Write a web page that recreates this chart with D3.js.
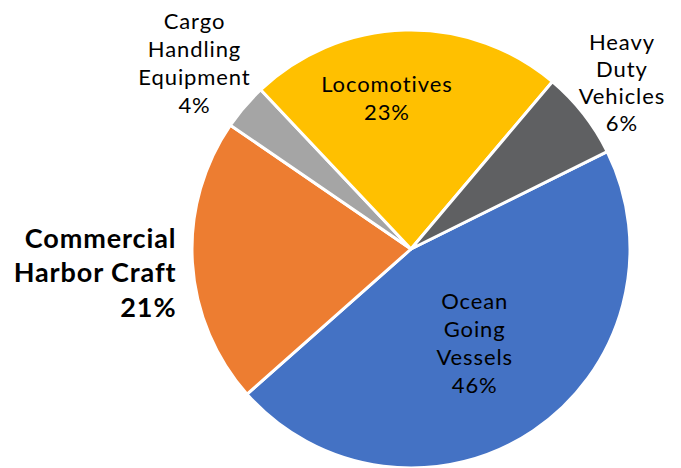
<!DOCTYPE html>
<html>
<head>
<meta charset="utf-8">
<script src="https://cdn.jsdelivr.net/npm/d3@7"></script>
<style>
  body { margin: 0; background: #fff; }
  text { font-family: Lato, "Open Sans", sans-serif; fill: #000; }
</style>
</head>
<body>
<svg width="681" height="468"></svg>
<script>
// slices in drawing order (clockwise, Ocean first)
const categories = ["Ocean Going Vessels", "Commercial Harbor Craft", "Cargo Handling Equipment", "Locomotives", "Heavy Duty Vehicles"];
const values = [45.8, 21.1, 3.4, 23.2, 6.5];
const pctLabels = ["46%", "21%", "4%", "23%", "6%"];
const labelLines = [["Ocean", "Going", "Vessels"], ["Commercial", "Harbor Craft"], ["Cargo", "Handling", "Equipment"], ["Locomotives"], ["Heavy", "Duty", "Vehicles"]];
const colors = ["#4472C4", "#ED7D31", "#A5A5A5", "#FFC000", "#5F6062"];

const svg = d3.select('svg');
const cx = 411, cy = 249, radius = 219;

const data = categories.map((c, i) => ({ name: c, value: values[i], pct: pctLabels[i], lines: labelLines[i] }));

//first slice starts a bit past 2 o'clock like the excel chart
const start = 63.6 * Math.PI / 180;
const pie = d3.pie().value(d => d.value).sort(null)
    .startAngle(start).endAngle(start + 2 * Math.PI);
const arcs = pie(data);

const arc = d3.arc().innerRadius(0).outerRadius(radius);

const g = svg.append('g').attr('transform', `translate(${cx}, ${cy})`);

g.selectAll('path')
    .data(arcs)
    .join('path')
    .attr('d', arc)
    .attr('fill', (d, i) => colors[i])
    .attr('stroke', '#fff')
    .attr('stroke-width', 3)
    .attr('stroke-linejoin', 'round');

//label placement per slice: distance from centre, extra shift, anchor, style
const layout = [
    { r: 114, dx: 0, dy: 0, anchor: 'middle', size: 22, ls: 0.9, lh: 28, bold: false },
    { r: 239, dx: 4, dy: 9, anchor: 'end', size: 27, ls: 0.9, lh: 34.5, bold: true },
    { r: 285, dx: 0, dy: 0, anchor: 'middle', size: 22, ls: 0.9, lh: 28, bold: false },
    { r: 151, dx: -20, dy: 0, anchor: 'middle', size: 22, ls: 0.9, lh: 28, bold: false },
    { r: 268, dx: 0, dy: -1, anchor: 'middle', size: 22, ls: 0.9, lh: 27, bold: false }
];

arcs.forEach((a, i) => {
    const L = layout[i];
    const mid = (a.startAngle + a.endAngle) / 2;
    const x = L.r * Math.sin(mid) + L.dx;
    const y = -L.r * Math.cos(mid) + L.dy;
    const lines = a.data.lines.concat([a.data.pct]);
    const top = y - (lines.length - 1) * L.lh / 2;
    const t = g.append('text')
        .attr('text-anchor', L.anchor)
        .style('font-size', L.size + 'px')
        .style('letter-spacing', L.ls + 'px')
        .style('font-weight', L.bold ? 'bold' : 'normal');
    lines.forEach((s, k) => {
        t.append('tspan')
            .attr('x', x)
            .attr('y', top + k * L.lh)
            .attr('dy', '0.35em')
            .text(s);
    });
});
</script>
</body>
</html>
